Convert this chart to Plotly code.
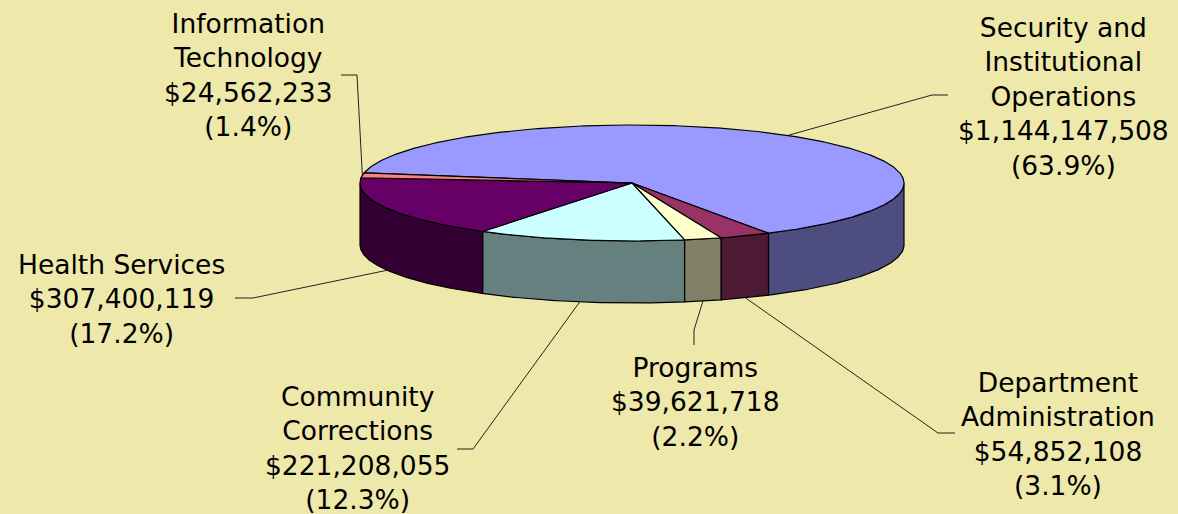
"""3-D style budget pie, drawn as filled scatter polygons on a pixel grid."""

import numpy as np
import plotly.graph_objects as go

# ── Data ─────────────────────────────────────────────────────────────────────

CATEGORIES = [
    "Security and Institutional Operations",
    "Department Administration",
    "Programs",
    "Community Corrections",
    "Health Services",
    "Information Technology",
]
LABEL_LINES = [
    "Security and<br>Institutional<br>Operations",
    "Department<br>Administration",
    "Programs",
    "Community<br>Corrections",
    "Health Services",
    "Information<br>Technology",
]
AMOUNTS = [1144147508, 54852108, 39621718, 221208055, 307400119, 24562233]

TOP_COLORS = ["#9999FF", "#993366", "#FFFFCC", "#CCFFFF", "#660066", "#FF8080"]
SIDE_COLORS = ["#4D4D80", "#4D1A33", "#808066", "#668080", "#330033", "#804040"]

# ── Layout constants (pixels) ────────────────────────────────────────────────

W, H = 1178, 514
BG = "#EEE8AA"
CX, CY, RX, RY, DEPTH = 632, 183, 272, 58, 62
START_ANGLE = 280  # clockwise from 12 o'clock
FONT = dict(family="DejaVu Sans, Arial, sans-serif", size=26.5, color="black")

LABEL_POS = [(1063, 96), (1058, 434), (695, 402), (357, 448), (121, 299), (248, 75)]
ELBOWS = [
    [(932, 95), (948, 95)],
    [(938, 433), (955, 433)],
    [(694, 330), (694, 345)],
    [(473, 449), (457, 449)],
    [(253, 298), (235, 298)],
    [(357, 75), (341, 75)],
]


def ellipse_pt(phi, drop=0.0):
    r = np.radians(phi)
    return CX + RX * np.sin(r), CY - RY * np.cos(r) + drop


total = sum(AMOUNTS)
fracs = [a / total for a in AMOUNTS]
cum = np.concatenate([[0], np.cumsum(fracs)])
starts = START_ANGLE + 360 * cum[:-1]
ends = START_ANGLE + 360 * cum[1:]

fig = go.Figure()

# ── Leader lines ─────────────────────────────────────────────────────────────

for s, e, elbow in zip(starts, ends, ELBOWS):
    mid = (s + e) / 2
    front = np.cos(np.radians(mid)) < 0
    ax, ay = ellipse_pt(mid, DEPTH if front else 0)
    xs = [ax] + [p[0] for p in elbow]
    ys = [ay] + [p[1] for p in elbow]
    fig.add_trace(
        go.Scatter(x=xs, y=ys, mode="lines", line=dict(color="#222", width=1), hoverinfo="skip")
    )

# ── Side walls (front half only) ─────────────────────────────────────────────

for name, s, e, col in zip(CATEGORIES, starts, ends, SIDE_COLORS):
    for lo, hi in [(90, 270), (450, 630)]:
        a, b = max(s, lo), min(e, hi)
        if a >= b:
            continue
        arc = np.linspace(a, b, max(3, int((b - a) * 2)))
        tx, ty = ellipse_pt(arc)
        bx, by = ellipse_pt(arc[::-1], DEPTH)
        fig.add_trace(
            go.Scatter(
                x=np.concatenate([tx, bx, tx[:1]]),
                y=np.concatenate([ty, by, ty[:1]]),
                mode="lines",
                fill="toself",
                fillcolor=col,
                line=dict(color="black", width=1.2),
                name=name,
                hoverinfo="name",
            )
        )

# ── Top faces ────────────────────────────────────────────────────────────────

for name, s, e, col in zip(CATEGORIES, starts, ends, TOP_COLORS):
    arc = np.linspace(s, e, max(3, int((e - s) * 2)))
    tx, ty = ellipse_pt(arc)
    fig.add_trace(
        go.Scatter(
            x=np.concatenate([[CX], tx, [CX]]),
            y=np.concatenate([[CY], ty, [CY]]),
            mode="lines",
            fill="toself",
            fillcolor=col,
            line=dict(color="black", width=1.2),
            name=name,
            hoverinfo="name",
        )
    )

# ── Labels ───────────────────────────────────────────────────────────────────

for lines, amt, frac, (lx, ly) in zip(LABEL_LINES, AMOUNTS, fracs, LABEL_POS):
    fig.add_annotation(
        x=lx,
        y=ly,
        xref="x",
        yref="y",
        text=f"{lines}<br>${amt:,}<br>({frac:.1%})",
        showarrow=False,
        align="center",
        xanchor="center",
        yanchor="middle",
        font=FONT,
    )

fig.update_layout(
    width=W,
    height=H,
    margin=dict(l=0, r=0, t=0, b=0),
    paper_bgcolor=BG,
    plot_bgcolor=BG,
    showlegend=False,
    xaxis=dict(range=[0, W], visible=False, fixedrange=True),
    yaxis=dict(range=[H, 0], visible=False, fixedrange=True),
)

# the page body has a default 8px margin; drop it so the figure fills the window
fig.write_html(
    "out.html",
    config=dict(displayModeBar=False),
    post_script="document.body.style.margin='0';document.body.style.overflow='hidden';",
)
